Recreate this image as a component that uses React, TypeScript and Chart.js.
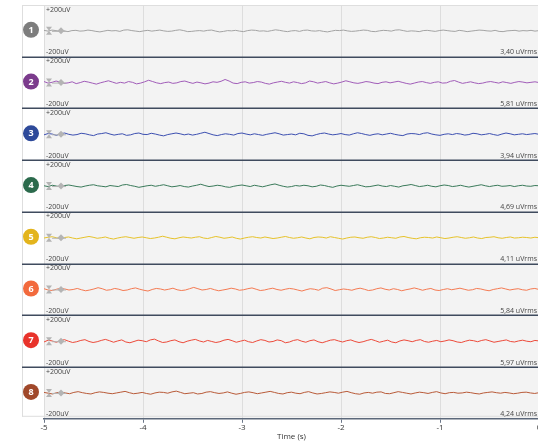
import React, { useEffect, useRef } from "react";
import { Chart, registerables } from "chart.js";

Chart.register(...registerables);

const CHANNEL_NAMES = ["1", "2", "3", "4", "5", "6", "7", "8"];
const RMS_LABELS = [
  "3,40 uVrms",
  "5,81 uVrms",
  "3,94 uVrms",
  "4,69 uVrms",
  "4,11 uVrms",
  "5,84 uVrms",
  "5,97 uVrms",
  "4,24 uVrms",
];
const SCALE_TOP_LABEL = "+200uV";
const SCALE_BOTTOM_LABEL = "-200uV";
const X_TICKS = [-5, -4, -3, -2, -1, 0];
const X_TITLE = "Time (s)";
const ROW_HALF_RANGE_UV = 200;

const BADGE_COLORS = ["#7d7d7d", "#7b3b8c", "#2e4a9a", "#2b6a4c", "#e3b41c", "#f26a3d", "#e8332b", "#a0482a"];
const TRACE_COLORS = ["#a3a3a3", "#a05cb8", "#3c4fb0", "#3a7a5a", "#e6c22a", "#f47a52", "#ec4a3a", "#b85a38"];

const CH1 = [4,-2,6,2,-4,0,-6,2,4,-2,0,6,2,-4,-8,-2,4,0,2,-4,6,8,2,-2,-6,0,4,-2,2,6,0,-4,-2,4,8,2,-6,-4,0,2,-2,4,6,-2,-8,-4,2,0,4,-2,-6,2,6,4,-2,0,-4,2,8,4,-2,-6,0,2,-4,4,6,0,-2,2,-4,-8,-2,4,2,6,0,-4,-2,2,6,4,-4,-6,0,4,2,-2,6,8,2,-4,0,-2,-6,2,4,0,-4,2,6,2,-2,-4,4,0,-6,-2,2,6,4,0,-2,4,-4,-6,0,2,4,-2,2,0,4,-2,2];
const CH2 = [8,-4,2,12,4,-6,-2,6,-8,0,10,4,-4,-12,-2,6,14,4,-6,2,-4,8,2,-10,-4,6,18,8,-2,-8,0,4,-6,-2,8,12,2,-6,4,-2,-10,-4,6,2,10,24,12,-4,-8,2,6,-4,0,8,4,-6,-12,-2,4,10,2,-4,6,0,-8,-2,12,6,-4,2,8,-2,-10,-4,4,14,6,-2,-6,0,8,4,-4,-8,2,6,-2,4,10,2,-6,-12,-4,4,8,0,-6,2,6,-4,-2,10,16,4,-6,0,6,-2,-8,-4,4,8,2,-4,6,0,-6,2,8,4,-2,2,6,0];
const CH3 = [-4,6,2,-8,4,10,0,-6,-2,8,4,-4,-10,2,6,12,2,-6,0,4,-8,-4,6,10,0,-2,8,2,-6,-12,-2,4,10,4,-4,2,-6,0,8,16,6,-4,-10,-2,4,0,-6,6,10,2,-4,4,-2,-8,0,6,12,4,-6,-2,2,-4,8,4,-8,-12,-2,6,10,2,-4,0,6,-2,-6,4,12,6,-2,-8,0,4,-4,2,8,0,-6,-10,2,6,4,-2,8,12,2,-4,-8,0,4,-2,6,2,-6,-2,8,4,-4,0,6,-2,-8,2,10,4,-4,0,4,-2,2,6,0];
const CH4 = [2,-4,6,0,-6,4,8,2,-4,-8,0,6,10,2,-2,-6,4,0,-4,8,12,4,-2,-10,-4,2,6,-2,4,10,2,-6,-2,4,-4,-8,0,6,14,4,-4,0,6,2,-6,-10,-2,4,8,2,-4,6,0,-6,2,10,16,6,-2,-8,-4,4,0,6,2,-6,-2,8,4,-4,-10,0,6,2,-2,4,10,2,-6,-4,2,8,0,-4,4,-2,-8,2,6,12,4,-4,0,6,-2,-6,2,8,4,-4,0,6,-2,-8,-2,4,10,2,-4,2,6,-2,0,4,-4,2,6,0,-2,4,2];
const CH5 = [-2,4,8,0,-6,2,6,-2,-8,-2,4,10,4,-4,0,6,-4,-10,-2,4,8,2,-4,2,6,0,-6,-2,4,12,4,-4,-8,0,6,2,-2,4,8,-2,-6,2,10,4,-4,0,6,-4,-10,-2,4,8,2,-2,6,0,-6,-2,4,10,2,-4,0,6,-2,-8,2,6,4,-2,8,2,-4,-10,-2,4,6,0,-4,4,8,2,-6,-2,4,0,-4,6,10,2,-4,-8,0,4,2,-2,6,0,-6,-2,4,8,2,-4,0,6,-2,-6,2,4,8,0,-4,2,6,-2,0,4,2,-2,4,0];
const CH6 = [6,-4,-8,2,10,4,-4,0,8,-2,-10,-4,4,14,6,-6,-2,8,2,-8,-4,6,12,2,-6,-12,0,8,4,-4,2,10,-2,-8,-4,6,16,6,-4,0,8,-2,-10,-4,2,10,4,-6,-2,6,12,2,-8,-4,4,10,0,-6,2,8,4,-4,-12,-2,6,2,-6,10,14,4,-8,-2,4,0,-6,4,10,2,-8,-4,6,12,2,-4,6,0,-10,-2,4,12,4,-6,2,8,-4,-8,0,6,-2,4,10,2,-6,-2,8,4,-4,-10,0,6,12,4,-4,2,6,-2,-6,4,8,0];
const CH7 = [-6,8,2,-8,4,12,0,-10,-4,6,12,-2,-10,-4,6,14,4,-8,2,10,-6,-12,-2,8,4,-4,10,16,2,-10,-6,4,10,-4,-12,0,8,14,2,-6,6,-2,-10,-4,8,14,4,-8,0,8,-4,-10,2,12,6,-6,-2,10,4,-12,-6,6,12,0,-8,4,10,-4,-12,-2,8,12,2,-6,4,10,-2,-10,-4,6,14,4,-8,0,8,-6,-12,2,10,4,-4,6,12,-2,-8,0,6,-4,2,10,4,-6,-10,0,8,4,-4,6,12,2,-8,-2,4,10,-2,-6,2,8,0,-4,6,2];
const CH8 = [4,-2,-8,2,6,0,-6,4,10,2,-4,-8,2,8,4,-2,-6,0,6,12,2,-6,-2,4,-4,-10,0,6,4,-2,8,14,4,-6,-2,2,-8,-4,6,10,2,-4,0,8,-2,-10,-4,4,8,2,-6,0,6,12,4,-4,-8,2,6,-2,-6,4,10,0,-8,-4,2,8,4,-2,6,12,2,-6,-10,0,4,-2,6,8,-4,-6,2,10,4,-2,-8,0,6,2,-4,4,10,0,-6,2,4,-2,0,6,2,-4,-8,0,4,8,2,-2,4,0,-6,-2,4,6,0,-4,2];

const CHANNELS = [CH1, CH2, CH3, CH4, CH5, CH6, CH7, CH8];

const PANEL_LEFT = 22;
const FONT = "'Open Sans', sans-serif";

export default function App() {
  const ref = useRef<HTMLCanvasElement | null>(null);

  useEffect(() => {
    const canvas = ref.current;
    if (!canvas) return;
    const n = CHANNELS.length;
    const rowRange = ROW_HALF_RANGE_UV * 2;
    const xMin = X_TICKS[0];
    const xMax = X_TICKS[X_TICKS.length - 1];

    const datasets = CHANNELS.map((vals, i) => {
      const offset = (n - 1 - i) * rowRange + ROW_HALF_RANGE_UV;
      const step = (xMax - xMin) / (vals.length - 1);
      return {
        label: CHANNEL_NAMES[i],
        data: vals.map((v, k) => ({ x: xMin + k * step, y: offset + v })),
        borderColor: TRACE_COLORS[i],
        borderWidth: 1,
        pointRadius: 0,
        tension: 0,
        fill: false,
      };
    });

    const panelPlugin = {
      id: "panels",
      beforeDraw(chart: any) {
        const { ctx, chartArea } = chart;
        const W = chart.width;
        ctx.save();
        ctx.fillStyle = "#ffffff";
        ctx.fillRect(0, 0, W, chart.height);
        ctx.fillStyle = "#f3f3f3";
        ctx.fillRect(chartArea.left, chartArea.top, chartArea.right - chartArea.left, chartArea.bottom - chartArea.top);
        ctx.strokeStyle = "#dedede";
        ctx.lineWidth = 1;
        ctx.beginPath();
        ctx.moveTo(PANEL_LEFT, chartArea.top + 0.5);
        ctx.lineTo(W, chartArea.top + 0.5);
        ctx.moveTo(PANEL_LEFT + 0.5, chartArea.top);
        ctx.lineTo(PANEL_LEFT + 0.5, chartArea.bottom - 2);
        ctx.moveTo(PANEL_LEFT, chartArea.bottom - 2.5);
        ctx.lineTo(W, chartArea.bottom - 2.5);
        ctx.stroke();
        ctx.restore();
      },
      afterDatasetsDraw(chart: any) {
        const { ctx, chartArea, scales } = chart;
        const W = chart.width;
        const yS = scales.y;
        const xS = scales.x;
        ctx.save();
        ctx.strokeStyle = "#3f4b5e";
        ctx.lineWidth = 1.5;
        for (let i = 1; i < n; i++) {
          const y = Math.round(yS.getPixelForValue((n - i) * rowRange)) + 0.25;
          ctx.beginPath();
          ctx.moveTo(PANEL_LEFT, y);
          ctx.lineTo(W, y);
          ctx.stroke();
        }
        for (let i = 0; i < n; i++) {
          const top = yS.getPixelForValue((n - i) * rowRange);
          const bottom = yS.getPixelForValue((n - 1 - i) * rowRange);
          const center = yS.getPixelForValue((n - 1 - i) * rowRange + ROW_HALF_RANGE_UV);
          ctx.fillStyle = "#444";
          ctx.font = `7px ${FONT}`;
          ctx.textAlign = "left";
          ctx.textBaseline = "top";
          ctx.fillText(SCALE_TOP_LABEL, chartArea.left + 2, top + 1);
          ctx.textBaseline = "bottom";
          ctx.fillText(SCALE_BOTTOM_LABEL, chartArea.left + 2, bottom - 1);
          ctx.textAlign = "right";
          ctx.fillText(RMS_LABELS[i], 537, bottom - 1);
          ctx.beginPath();
          ctx.fillStyle = BADGE_COLORS[i];
          ctx.arc(31, center - 1, 8, 0, Math.PI * 2);
          ctx.fill();
          ctx.fillStyle = "#ffffff";
          ctx.font = `bold 9px ${FONT}`;
          ctx.textAlign = "center";
          ctx.textBaseline = "middle";
          ctx.fillText(CHANNEL_NAMES[i], 31, center - 0.5);
          const mx = xS.getPixelForValue(xMin) + 5;
          ctx.fillStyle = "#b4b4b4";
          ctx.strokeStyle = "#b4b4b4";
          ctx.lineWidth = 1;
          ctx.beginPath();
          ctx.moveTo(mx - 3, center - 4);
          ctx.lineTo(mx + 3, center - 4);
          ctx.lineTo(mx, center);
          ctx.closePath();
          ctx.fill();
          ctx.beginPath();
          ctx.moveTo(mx - 3, center + 4);
          ctx.lineTo(mx + 3, center + 4);
          ctx.lineTo(mx, center);
          ctx.closePath();
          ctx.fill();
          ctx.beginPath();
          ctx.moveTo(mx + 3, center + 0.5);
          ctx.lineTo(mx + 17, center + 0.5);
          ctx.stroke();
          const dx = mx + 12;
          ctx.beginPath();
          ctx.moveTo(dx, center - 3.5);
          ctx.lineTo(dx + 3.5, center);
          ctx.lineTo(dx, center + 3.5);
          ctx.lineTo(dx - 3.5, center);
          ctx.closePath();
          ctx.fill();
        }
        ctx.restore();
      },
    };

    const chart = new Chart(canvas, {
      type: "line",
      data: { datasets: datasets as any },
      options: {
        animation: false,
        responsive: false,
        maintainAspectRatio: false,
        layout: { padding: { left: 44, right: 9, top: 5, bottom: 0 } },
        plugins: { legend: { display: false }, tooltip: { enabled: false } },
        scales: {
          x: {
            type: "linear",
            min: xMin,
            max: xMax,
            afterBuildTicks: (axis: any) => {
              axis.ticks = X_TICKS.map((v) => ({ value: v }));
            },
            ticks: {
              color: "#333",
              font: { family: FONT, size: 8, lineHeight: 1.2 },
              padding: 0,
              maxRotation: 0,
              autoSkip: false,
              callback: (v: any) => String(v),
            },
            grid: {
              color: "#dddddd",
              lineWidth: 1,
              drawTicks: true,
              tickLength: 4,
              tickColor: "#6b7789",
            },
            border: { color: "#5c687a", width: 1.5 },
            title: {
              display: true,
              text: X_TITLE,
              color: "#333",
              font: { family: FONT, size: 8, lineHeight: 1.2 },
              padding: { top: 0, bottom: 0 },
            },
          },
          y: {
            type: "linear",
            display: false,
            min: 0,
            max: n * rowRange,
          },
        },
      },
      plugins: [panelPlugin],
    });
    return () => chart.destroy();
  }, []);

  return (
    <div style={{ position: "absolute", left: 0, top: 0, width: 538, height: 442, overflow: "hidden", background: "#fff" }}>
      <canvas ref={ref} width={548} height={442} style={{ width: 548, height: 442, display: "block" }} />
    </div>
  );
}
